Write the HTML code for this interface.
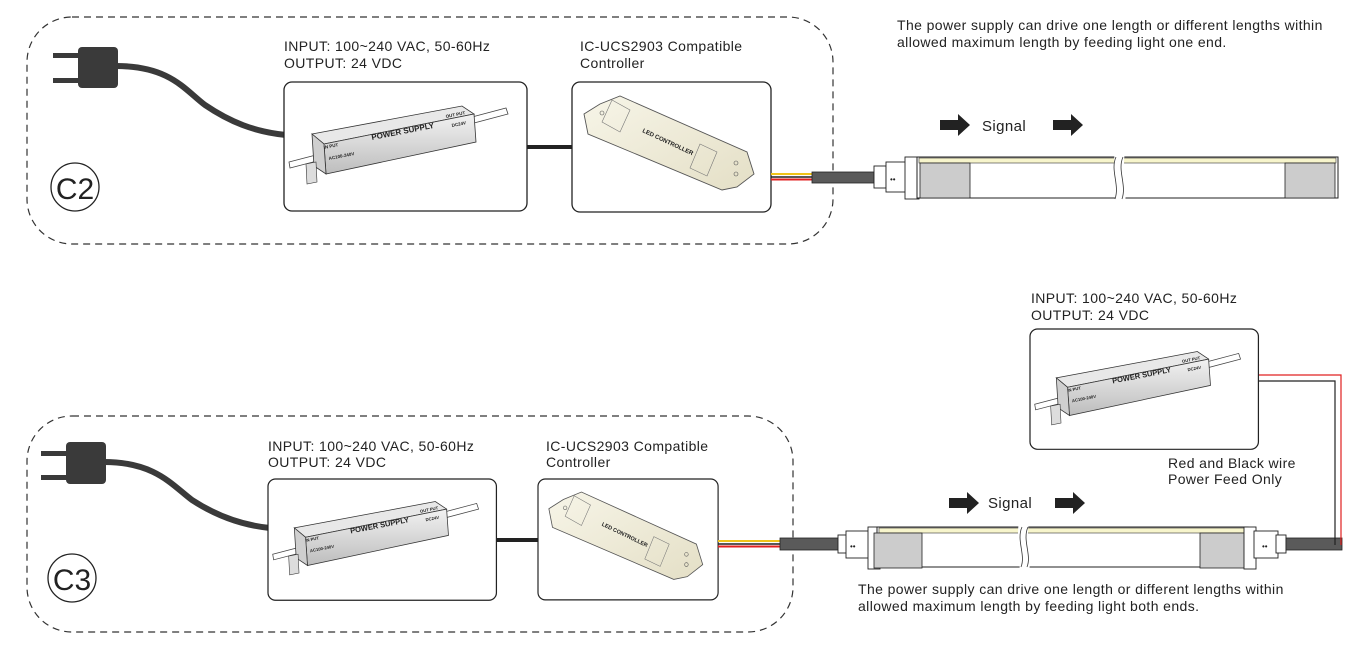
<!DOCTYPE html>
<html><head><meta charset="utf-8"><style>
html,body{margin:0;padding:0;background:#fff}
svg{display:block}
text{font-family:"Liberation Sans",Arial,sans-serif;fill:#222}
.t{font-size:14px;letter-spacing:0.4px}
</style></head><body>
<svg width="1348" height="654" viewBox="0 0 1348 654" xmlns="http://www.w3.org/2000/svg">
<defs>
<linearGradient id="psg" x1="0" y1="0" x2="0" y2="1"><stop offset="0" stop-color="#f2f2f2"/><stop offset="1" stop-color="#bdbdbd"/></linearGradient>
<linearGradient id="ctg" x1="0" y1="0" x2="1" y2="1"><stop offset="0" stop-color="#f7f5e8"/><stop offset="1" stop-color="#e4dfc6"/></linearGradient>
</defs>

<!-- ============ C2 ============ -->
<rect x="27" y="17" width="806" height="227" rx="45" fill="none" stroke="#333" stroke-width="1.2" stroke-dasharray="7,5"/>
<rect x="53" y="53" width="27" height="5" fill="#3a3a3a"/>
<rect x="53" y="78" width="27" height="5" fill="#3a3a3a"/>
<rect x="78" y="47" width="40" height="41" rx="4" fill="#3a3a3a"/>
<path d="M116 66 C170 66 185 90 205 105 C230 122 255 132 286 135" fill="none" stroke="#3a3a3a" stroke-width="6"/>
<circle cx="75" cy="187" r="24" fill="none" stroke="#222" stroke-width="1.3"/>
<text x="75" y="199" font-size="30" text-anchor="middle">C2</text>

<text class="t" x="284" y="51">INPUT: 100~240 VAC, 50-60Hz</text>
<text class="t" x="284" y="68">OUTPUT: 24 VDC</text>
<text class="t" x="580" y="51">IC-UCS2903 Compatible</text>
<text class="t" x="580" y="68">Controller</text>

<line x1="527" y1="147" x2="572" y2="147" stroke="#222" stroke-width="4"/>

<g transform="translate(284,82)">
 <rect x="0" y="0" width="243" height="129" rx="8" fill="#fff" stroke="#222" stroke-width="1.3"/>
 <polygon points="188,35 222,26 224,32 190,41" fill="#fff" stroke="#444" stroke-width="0.8"/>
 <polygon points="5,80 32,73 33,79 6,86" fill="#fff" stroke="#444" stroke-width="0.8"/>
 <polygon points="28,52 178,24 190,32 40,62" fill="#e8e8e8" stroke="#333" stroke-width="0.8"/>
 <polygon points="40,62 190,32 192,60 42,92" fill="url(#psg)" stroke="#333" stroke-width="0.8"/>
 <polygon points="28,52 40,62 42,92 30,84" fill="#cfcfcf" stroke="#333" stroke-width="0.8"/>
 <polygon points="22,82 32,80 33,100 23,102" fill="#ddd" stroke="#333" stroke-width="0.6"/>
 <text x="88" y="58" font-size="8" font-weight="bold" transform="rotate(-11 88 58)">POWER SUPPLY</text>
 <text x="40" y="67" font-size="4.5" font-weight="bold" transform="rotate(-11 40 67)">IN PUT</text>
 <text x="45" y="78" font-size="4.5" font-weight="bold" transform="rotate(-11 45 78)">AC100-240V</text>
 <text x="162" y="36" font-size="4.5" font-weight="bold" transform="rotate(-11 162 36)">OUT PUT</text>
 <text x="168" y="45" font-size="4.5" font-weight="bold" transform="rotate(-11 168 45)">DC24V</text>
</g>

<g transform="translate(572,82)">
 <rect x="0" y="0" width="199" height="130" rx="8" fill="#fff" stroke="#222" stroke-width="1.3"/>
 <polygon points="12,32 28,22 48,14 175,70 182,92 165,105 150,108 16,52" fill="url(#ctg)" stroke="#555" stroke-width="0.9"/>
 <polygon points="40,18 58,28 48,50 30,40" fill="none" stroke="#777" stroke-width="0.6"/>
 <polygon points="128,62 145,70 135,94 118,86" fill="none" stroke="#777" stroke-width="0.6"/>
 <circle cx="30" cy="31" r="2" fill="none" stroke="#555" stroke-width="0.6"/>
 <circle cx="164" cy="81" r="2" fill="none" stroke="#555" stroke-width="0.6"/>
 <circle cx="164" cy="92" r="2" fill="none" stroke="#555" stroke-width="0.6"/>
 <text x="70" y="50" font-size="6" font-weight="bold" transform="rotate(25 70 50)">LED CONTROLLER</text>
</g>

<line x1="771" y1="174" x2="812" y2="174" stroke="#f0c419" stroke-width="2"/>
<line x1="771" y1="177" x2="812" y2="177" stroke="#222" stroke-width="1.5"/>
<line x1="771" y1="179.5" x2="812" y2="179.5" stroke="#e02020" stroke-width="2"/>
<rect x="812" y="172" width="62" height="11" fill="#5a5a5a" stroke="#222" stroke-width="0.8"/>
<rect x="874" y="166" width="12" height="22" fill="#fff" stroke="#222" stroke-width="0.9"/>
<rect x="886" y="162" width="20" height="30" fill="#fff" stroke="#222" stroke-width="0.9"/>
<text x="890" y="182" font-size="8">••</text>
<rect x="905" y="157" width="14" height="42" fill="#fff" stroke="#222" stroke-width="0.9"/>
<rect x="917" y="157" width="421" height="41" fill="#fff" stroke="#222" stroke-width="1"/>
<rect x="919" y="158" width="417" height="5" fill="#f7f5cc" stroke="#333" stroke-width="0.6"/>
<rect x="920" y="163" width="50" height="35" fill="#ccc" stroke="#222" stroke-width="0.8"/>
<rect x="1285" y="163" width="50" height="35" fill="#ccc" stroke="#222" stroke-width="0.8"/>
<path d="M1116 150 C1110 165 1120 185 1114 205 L1124 205 C1130 185 1120 165 1126 150 Z" fill="#fff"/>
<path d="M1116 157 C1110 170 1120 185 1115 199" fill="none" stroke="#333" stroke-width="0.8"/>
<path d="M1123 157 C1117 170 1127 185 1122 199" fill="none" stroke="#333" stroke-width="0.8"/>
<polygon points="940,120 958,120 958,114 970,125 958,136 958,130 940,130" fill="#222"/>
<text x="982" y="131" font-size="15" letter-spacing="0.4">Signal</text>
<polygon points="1053,120 1071,120 1071,114 1083,125 1071,136 1071,130 1053,130" fill="#222"/>
<text class="t" x="897" y="30">The power supply can drive one length or different lengths within</text>
<text class="t" x="897" y="47">allowed maximum length by feeding light one end.</text>

<!-- ============ C3 ============ -->
<rect x="27" y="416" width="766" height="216" rx="45" fill="none" stroke="#333" stroke-width="1.2" stroke-dasharray="7,5"/>
<rect x="41" y="451" width="27" height="5" fill="#3a3a3a"/>
<rect x="41" y="475" width="27" height="5" fill="#3a3a3a"/>
<rect x="66" y="442" width="40" height="42" rx="4" fill="#3a3a3a"/>
<path d="M104 462 C155 462 172 485 192 500 C215 515 240 525 270 528" fill="none" stroke="#3a3a3a" stroke-width="6"/>
<circle cx="72" cy="578" r="24" fill="none" stroke="#222" stroke-width="1.3"/>
<text x="72" y="590" font-size="30" text-anchor="middle">C3</text>

<text class="t" x="268" y="451">INPUT: 100~240 VAC, 50-60Hz</text>
<text class="t" x="268" y="467">OUTPUT: 24 VDC</text>
<text class="t" x="546" y="451">IC-UCS2903 Compatible</text>
<text class="t" x="546" y="467">Controller</text>
<line x1="496" y1="540" x2="538" y2="540" stroke="#222" stroke-width="4"/>

<g transform="translate(268,479) scale(0.94)">
 <rect x="0" y="0" width="243" height="129" rx="8" fill="#fff" stroke="#222" stroke-width="1.3"/>
 <polygon points="188,35 222,26 224,32 190,41" fill="#fff" stroke="#444" stroke-width="0.8"/>
 <polygon points="5,80 32,73 33,79 6,86" fill="#fff" stroke="#444" stroke-width="0.8"/>
 <polygon points="28,52 178,24 190,32 40,62" fill="#e8e8e8" stroke="#333" stroke-width="0.8"/>
 <polygon points="40,62 190,32 192,60 42,92" fill="url(#psg)" stroke="#333" stroke-width="0.8"/>
 <polygon points="28,52 40,62 42,92 30,84" fill="#cfcfcf" stroke="#333" stroke-width="0.8"/>
 <polygon points="22,82 32,80 33,100 23,102" fill="#ddd" stroke="#333" stroke-width="0.6"/>
 <text x="88" y="58" font-size="8" font-weight="bold" transform="rotate(-11 88 58)">POWER SUPPLY</text>
 <text x="40" y="67" font-size="4.5" font-weight="bold" transform="rotate(-11 40 67)">IN PUT</text>
 <text x="45" y="78" font-size="4.5" font-weight="bold" transform="rotate(-11 45 78)">AC100-240V</text>
 <text x="162" y="36" font-size="4.5" font-weight="bold" transform="rotate(-11 162 36)">OUT PUT</text>
 <text x="168" y="45" font-size="4.5" font-weight="bold" transform="rotate(-11 168 45)">DC24V</text>
</g>

<g transform="translate(538,479) scale(0.905,0.93)">
 <rect x="0" y="0" width="199" height="130" rx="8" fill="#fff" stroke="#222" stroke-width="1.3"/>
 <polygon points="12,32 28,22 48,14 175,70 182,92 165,105 150,108 16,52" fill="url(#ctg)" stroke="#555" stroke-width="0.9"/>
 <polygon points="40,18 58,28 48,50 30,40" fill="none" stroke="#777" stroke-width="0.6"/>
 <polygon points="128,62 145,70 135,94 118,86" fill="none" stroke="#777" stroke-width="0.6"/>
 <circle cx="30" cy="31" r="2" fill="none" stroke="#555" stroke-width="0.6"/>
 <circle cx="164" cy="81" r="2" fill="none" stroke="#555" stroke-width="0.6"/>
 <circle cx="164" cy="92" r="2" fill="none" stroke="#555" stroke-width="0.6"/>
 <text x="70" y="50" font-size="6" font-weight="bold" transform="rotate(25 70 50)">LED CONTROLLER</text>
</g>

<line x1="718" y1="541" x2="780" y2="541" stroke="#f0c419" stroke-width="2"/>
<line x1="718" y1="544" x2="780" y2="544" stroke="#222" stroke-width="1.5"/>
<line x1="718" y1="546.5" x2="780" y2="546.5" stroke="#e02020" stroke-width="2"/>
<rect x="780" y="538" width="68" height="12" fill="#5a5a5a" stroke="#222" stroke-width="0.8"/>
<rect x="838" y="535" width="10" height="18" fill="#fff" stroke="#222" stroke-width="0.9"/>
<rect x="846" y="531" width="24" height="27" fill="#fff" stroke="#222" stroke-width="0.9"/>
<text x="850" y="549" font-size="8">••</text>
<rect x="868" y="527" width="12" height="42" fill="#fff" stroke="#222" stroke-width="0.9"/>
<rect x="877" y="527" width="371" height="40" fill="#fff" stroke="#222" stroke-width="1"/>
<rect x="879" y="528" width="367" height="5" fill="#f7f5cc" stroke="#333" stroke-width="0.6"/>
<rect x="874" y="533" width="48" height="35" fill="#ccc" stroke="#222" stroke-width="0.8"/>
<rect x="1200" y="533" width="48" height="35" fill="#ccc" stroke="#222" stroke-width="0.8"/>
<rect x="1244" y="527" width="12" height="42" fill="#fff" stroke="#222" stroke-width="0.9"/>
<path d="M1020 520 C1014 535 1024 555 1018 575 L1028 575 C1034 555 1024 535 1030 520 Z" fill="#fff"/>
<path d="M1022 527 C1016 540 1026 555 1021 567" fill="none" stroke="#333" stroke-width="0.8"/>
<path d="M1028 527 C1022 540 1032 555 1027 567" fill="none" stroke="#333" stroke-width="0.8"/>
<rect x="1254" y="531" width="24" height="27" fill="#fff" stroke="#222" stroke-width="0.9"/>
<rect x="1276" y="535" width="10" height="18" fill="#fff" stroke="#222" stroke-width="0.9"/>
<text x="1262" y="549" font-size="8">••</text>
<rect x="1286" y="538" width="56" height="12" fill="#5a5a5a" stroke="#222" stroke-width="0.8"/>
<polyline points="1258,375 1341,375 1341,545" fill="none" stroke="#e02020" stroke-width="1.2"/>
<polyline points="1258,381 1335,381 1335,545" fill="none" stroke="#222" stroke-width="1.2"/>

<polygon points="949,498 967,498 967,492 979,503 967,514 967,508 949,508" fill="#222"/>
<text x="988" y="508" font-size="15" letter-spacing="0.4">Signal</text>
<polygon points="1055,498 1073,498 1073,492 1085,503 1073,514 1073,508 1055,508" fill="#222"/>

<text class="t" x="1031" y="303">INPUT: 100~240 VAC, 50-60Hz</text>
<text class="t" x="1031" y="320">OUTPUT: 24 VDC</text>
<g transform="translate(1030,329) scale(0.94)">
 <rect x="0" y="0" width="243" height="128" rx="8" fill="#fff" stroke="#222" stroke-width="1.3"/>
 <polygon points="188,35 222,26 224,32 190,41" fill="#fff" stroke="#444" stroke-width="0.8"/>
 <polygon points="5,80 32,73 33,79 6,86" fill="#fff" stroke="#444" stroke-width="0.8"/>
 <polygon points="28,52 178,24 190,32 40,62" fill="#e8e8e8" stroke="#333" stroke-width="0.8"/>
 <polygon points="40,62 190,32 192,60 42,92" fill="url(#psg)" stroke="#333" stroke-width="0.8"/>
 <polygon points="28,52 40,62 42,92 30,84" fill="#cfcfcf" stroke="#333" stroke-width="0.8"/>
 <polygon points="22,82 32,80 33,100 23,102" fill="#ddd" stroke="#333" stroke-width="0.6"/>
 <text x="88" y="58" font-size="8" font-weight="bold" transform="rotate(-11 88 58)">POWER SUPPLY</text>
 <text x="40" y="67" font-size="4.5" font-weight="bold" transform="rotate(-11 40 67)">IN PUT</text>
 <text x="45" y="78" font-size="4.5" font-weight="bold" transform="rotate(-11 45 78)">AC100-240V</text>
 <text x="162" y="36" font-size="4.5" font-weight="bold" transform="rotate(-11 162 36)">OUT PUT</text>
 <text x="168" y="45" font-size="4.5" font-weight="bold" transform="rotate(-11 168 45)">DC24V</text>
</g>
<text class="t" x="1168" y="468">Red and Black wire</text>
<text class="t" x="1168" y="484">Power Feed Only</text>

<text class="t" x="858" y="594">The power supply can drive one length or different lengths within</text>
<text class="t" x="858" y="611">allowed maximum length by feeding light both ends.</text>
</svg>
</body></html>
